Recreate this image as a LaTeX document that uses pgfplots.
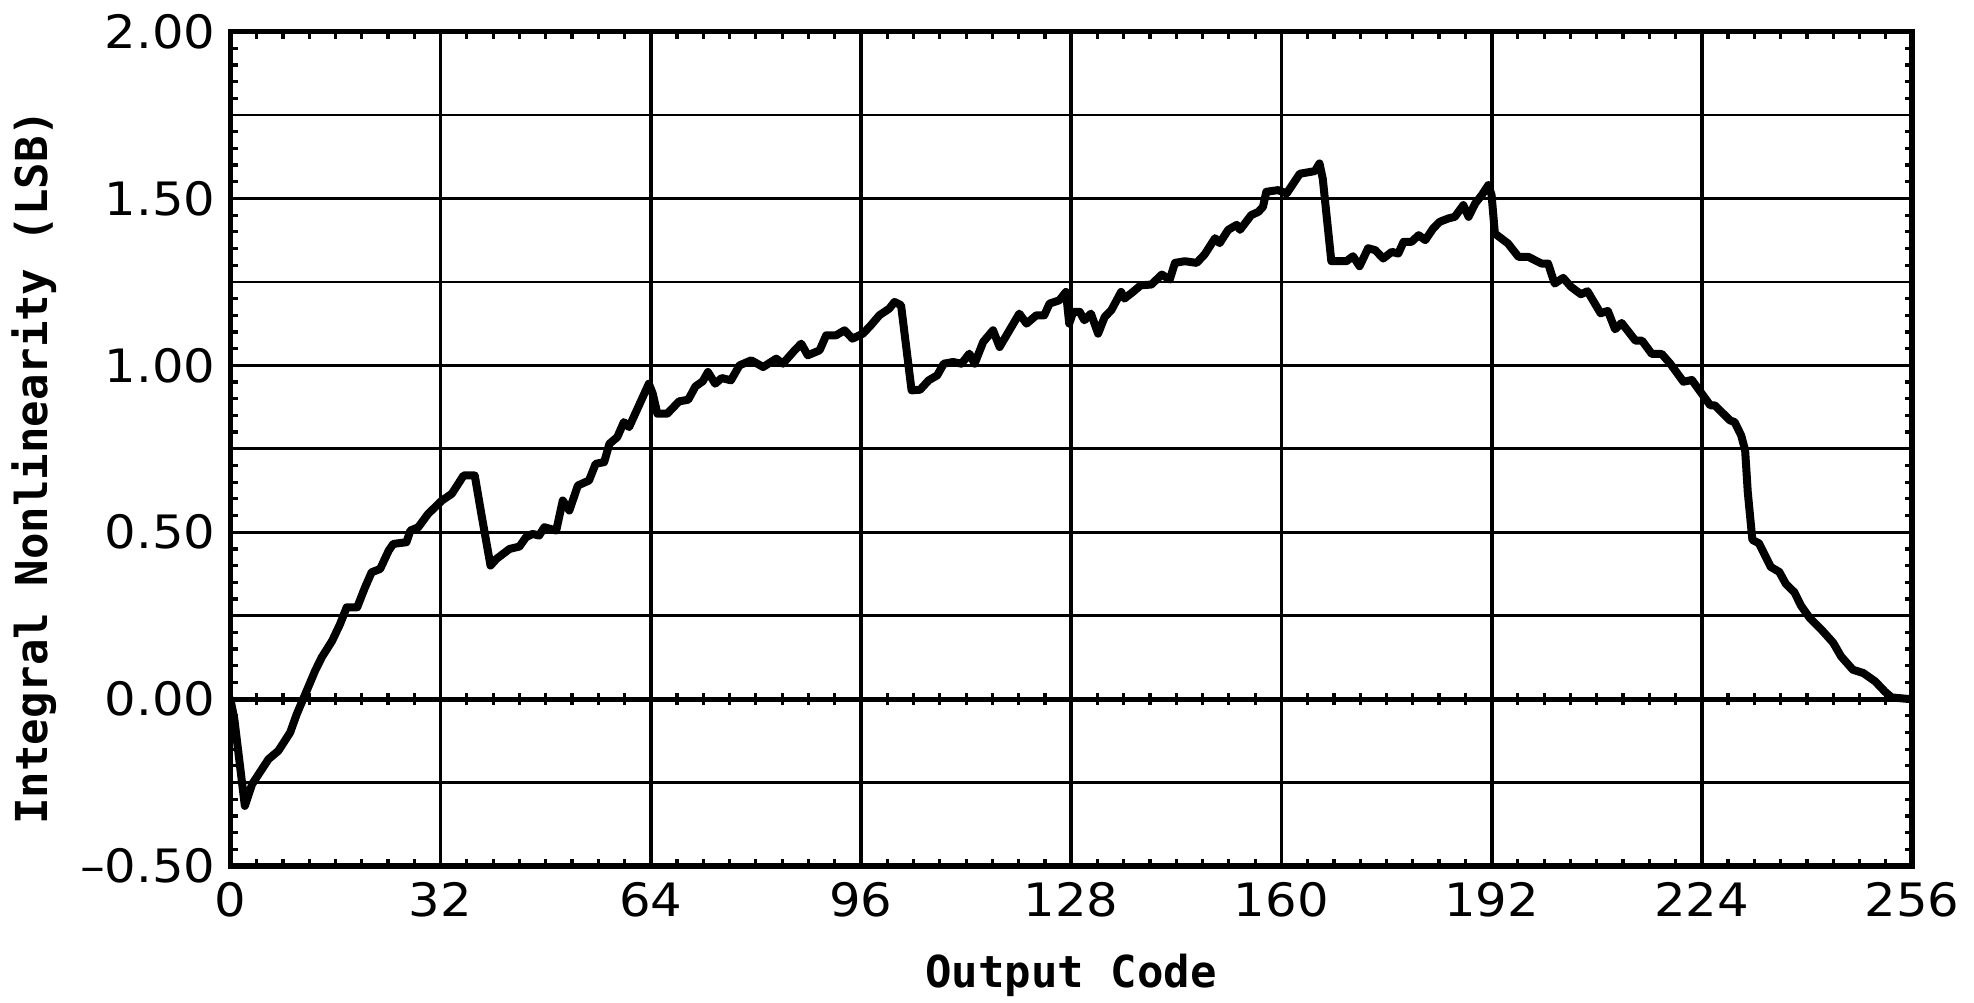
\documentclass[border=0pt]{standalone}
\usepackage{fontspec}
\setmainfont{DejaVu Sans}[FakeStretch=1.08]
\newfontfamily\labelfont{DejaVu Sans Mono}
\usepackage{pgfplots}
\usepackage{pgfplotstable}
\pgfplotsset{compat=1.18}

\pgfplotstableread{
x y
0 0
0.6 -0.06
2.2 -0.32
3.3 -0.255
5.8 -0.18
7.3 -0.155
9.1 -0.10
10.1 -0.045
11.4 0.015
12.9 0.085
13.9 0.125
15.5 0.175
16.7 0.225
17.7 0.275
19.3 0.275
20.5 0.335
21.5 0.38
22.8 0.39
24.1 0.445
24.8 0.465
26.8 0.47
27.4 0.505
28.6 0.515
30.1 0.555
32.2 0.595
33.7 0.615
35.5 0.67
37.2 0.67
38.2 0.555
39.6 0.40
40.5 0.42
42.5 0.45
44.0 0.457
45.0 0.485
46.0 0.495
47.0 0.49
47.8 0.515
49.6 0.505
50.6 0.595
51.6 0.565
52.9 0.64
54.6 0.655
55.6 0.705
56.9 0.71
57.7 0.765
58.9 0.785
59.9 0.83
60.7 0.815
63.7 0.945
64.3 0.915
65.0 0.855
66.5 0.855
68.3 0.892
69.7 0.897
70.8 0.937
71.9 0.952
72.7 0.98
73.8 0.945
74.8 0.962
76.2 0.955
77.5 1.0
79.3 1.015
81.1 0.995
83.1 1.02
84.1 1.005
85.9 1.045
86.9 1.065
87.9 1.03
89.7 1.045
90.7 1.09
92.2 1.09
93.5 1.105
94.7 1.08
96.3 1.095
97.5 1.12
98.8 1.15
100.3 1.17
101.1 1.19
102.1 1.18
103.7 0.925
105.0 0.927
106.3 0.955
107.6 0.97
108.6 1.005
110.0 1.01
111.3 1.005
112.5 1.035
113.3 1.005
114.6 1.07
116.1 1.105
117.1 1.055
118.6 1.105
120.1 1.155
121.2 1.125
122.7 1.15
123.9 1.15
124.7 1.185
126.2 1.195
127.2 1.22
127.7 1.125
128.3 1.16
129.3 1.16
130.0 1.135
131.0 1.155
132.1 1.095
133.1 1.145
134.1 1.165
135.6 1.22
136.1 1.2
137.4 1.22
138.6 1.24
140.2 1.242
141.8 1.272
143.0 1.257
143.8 1.307
145.3 1.312
147.1 1.307
148.3 1.332
149.9 1.381
150.6 1.366
151.9 1.406
153.2 1.421
153.7 1.406
155.4 1.45
156.5 1.46
157.2 1.475
157.7 1.52
159.5 1.525
160.8 1.515
162.8 1.574
165.1 1.582
165.8 1.605
166.3 1.559
167.6 1.312
169.9 1.312
170.9 1.327
171.9 1.297
173.2 1.351
174.3 1.345
175.5 1.32
176.8 1.34
177.8 1.335
178.6 1.37
179.8 1.37
180.9 1.39
181.9 1.375
183.1 1.41
184.1 1.43
185.4 1.44
186.4 1.445
187.7 1.48
188.5 1.445
189.5 1.485
190.5 1.51
191.5 1.54
192.0 1.51
192.5 1.395
193.5 1.38
194.5 1.365
196.1 1.325
197.6 1.325
199.6 1.305
200.6 1.305
201.6 1.245
202.9 1.262
204.1 1.235
205.6 1.213
206.6 1.222
208.6 1.156
209.7 1.163
210.8 1.108
211.8 1.127
213.9 1.074
214.9 1.074
216.4 1.034
217.9 1.034
219.2 1.005
221.2 0.951
222.5 0.956
224.0 0.915
225.3 0.88
226.0 0.88
228.3 0.835
229.0 0.83
230.0 0.79
230.6 0.745
231.0 0.62
231.7 0.477
232.7 0.467
234.5 0.396
235.8 0.381
236.8 0.345
238.1 0.32
239.1 0.28
240.4 0.244
242.4 0.204
244.0 0.169
245.2 0.128
247.0 0.088
248.6 0.078
250.4 0.053
251.9 0.022
252.9 0.005
255.7 0.0
}\inldata

\pgfplotstableread{
x y
4 0
8 0
12 0
16 0
20 0
24 0
28 0
36 0
40 0
44 0
48 0
52 0
56 0
60 0
68 0
72 0
76 0
80 0
84 0
88 0
92 0
100 0
104 0
108 0
112 0
116 0
120 0
124 0
132 0
136 0
140 0
144 0
148 0
152 0
156 0
164 0
168 0
172 0
176 0
180 0
184 0
188 0
196 0
200 0
204 0
208 0
212 0
216 0
220 0
228 0
232 0
236 0
240 0
244 0
248 0
252 0
}\zeroticks

\begin{document}
\begin{tikzpicture}
\useasboundingbox (0,0) rectangle (493.5pt,250.75pt);
\begin{axis}[
  at={(57.6pt,34.25pt)}, anchor=south west,
  scale only axis, width=420.4pt, height=208.6pt,
  xmin=0, xmax=256, ymin=-0.5, ymax=2,
  xtick={0,32,...,256},
  xticklabels={0,32,64,96,128,160,192,224,256},
  ytick={-0.5,-0.25,...,2},
  yticklabels={–0.50,,0.00,,0.50,,1.00,,1.50,,2.00},
  minor x tick num=7, minor y tick num=4,
  major tick length=0pt, minor tick length=1.8pt,
  tick style={black, line width=0.8pt},
  grid=major,
  x grid style={black, line width=0.95pt},
  y grid style={black, line width=0.7pt},
  axis line style={black, line width=1.3pt},
  tick label style={font=\fontsize{11.5}{13}\selectfont},
  xticklabel style={anchor=north, inner sep=0pt, yshift=-4pt},
  yticklabel style={anchor=east, inner sep=0pt, xshift=-3.5pt},
  xlabel={Output Code}, ylabel={Integral Nonlinearity (LSB)},
  label style={font=\labelfont\bfseries\fontsize{11}{13}\selectfont},
  xlabel style={at={(axis description cs:0.5,-0.1306)}, anchor=center},
  ylabel style={at={(axis description cs:-0.1168,0.478)}, anchor=center},
]
\addplot[black, line width=1.2pt] coordinates {(0,0) (256,0)};
\addplot[only marks, mark=|, mark size=1.5pt, mark options={line width=0.8pt}] table[x=x,y=y] {\zeroticks};
\addplot[black, line width=2pt, line join=round, line cap=round] table[x=x,y=y] {\inldata};
\end{axis}
\end{tikzpicture}
\end{document}
